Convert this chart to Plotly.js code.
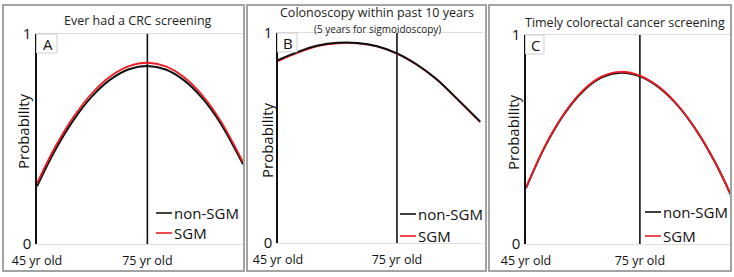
<!DOCTYPE html>
<html><head><meta charset="utf-8">
<script src="https://cdn.plot.ly/plotly-3.0.1.min.js"></script>
<style>html,body{margin:0;padding:0;background:#fff;}#chart{width:734px;height:277px;}</style>
</head><body><div id="chart"></div>
<script>
// ---- data ----
const agesA = [45, 50, 55, 60, 65, 70, 75, 80, 85, 90, 95, 101];
const nonSgmA = [0.275, 0.449, 0.592, 0.704, 0.784, 0.832, 0.848, 0.831, 0.779, 0.693, 0.572, 0.38];
const sgmA    = [0.289, 0.464, 0.607, 0.719, 0.799, 0.847, 0.863, 0.846, 0.794, 0.707, 0.584, 0.39];

const agesB = [45, 50, 55, 60, 65, 70, 75, 80, 85, 90, 96];
const nonSgmB = [0.871, 0.910, 0.940, 0.953, 0.952, 0.937, 0.903, 0.850, 0.780, 0.690, 0.578];
const sgmB    = [0.866, 0.906, 0.937, 0.951, 0.951, 0.936, 0.902, 0.849, 0.779, 0.689, 0.576];

const agesC = [45, 50, 55, 60, 65, 70, 75, 80, 85, 90, 95, 99];
const nonSgmC = [0.267, 0.466, 0.620, 0.731, 0.797, 0.819, 0.802, 0.749, 0.662, 0.540, 0.384, 0.233];
const sgmC    = [0.270, 0.468, 0.623, 0.735, 0.802, 0.824, 0.806, 0.752, 0.664, 0.541, 0.385, 0.235];

const panelTitles = ['Ever had a CRC screening', 'Colonoscopy within past 10 years', 'Timely colorectal cancer screening'];
const panelSubtitles = ['', '(5 years for sigmoidoscopy)', ''];
const panelLetters = ['A', 'B', 'C'];
const seriesNames = ['non-SGM', 'SGM'];
const tickAges = [45, 75];
const tickAgeLabels = ['45 yr old', '75 yr old'];
const probTicks = [0, 1];
const probTickLabels = ['0', '1'];
const yTitle = 'Probability';
const markerAge = 75;

// ---- layout helpers (pixel -> paper) ----
const W = 734, H = 277;
const px = x => x / W;
const py = y => 1 - y / H;
const FONT = 'Open Sans, sans-serif';
const BLACK = '#111111', RED = '#ee1c25';

const panels = [
  {ages: agesA, non: nonSgmA, sgm: sgmA, xr: [45, 101], dom: [37, 243], top: 34, bot: 244, border: [3, 244], redOnTop: true,
   titleX: 138, titleY: 21, ytX: 23, ytY: 131, legX: 156, legY: [213, 233], boxW: 20},
  {ages: agesB, non: nonSgmB, sgm: sgmB, xr: [45, 96.7], dom: [278, 483], top: 33, bot: 243, border: [247, 486], redOnTop: false,
   titleX: 377, titleY: 12.5, ytX: 267, ytY: 140, legX: 400, legY: [214, 236], boxW: 19},
  {ages: agesC, non: nonSgmC, sgm: sgmC, xr: [45, 99], dom: [526, 731], top: 35, bot: 244, border: [489, 731], redOnTop: true,
   titleX: 625, titleY: 22, ytX: 513, ytY: 132, legX: 645, legY: [212, 236], boxW: 18}
];

const traces = [];
const shapes = [];
const annotations = [];
const layout = {
  width: W, height: H, margin: {l: 0, r: 0, t: 0, b: 0},
  paper_bgcolor: '#ffffff', plot_bgcolor: 'rgba(0,0,0,0)', showlegend: false,
  font: {family: FONT, color: BLACK}
};

panels.forEach((p, i) => {
  const n = i + 1;
  const xa = 'x' + (n === 1 ? '' : n), ya = 'y' + (n === 1 ? '' : n);
  const xk = 'xaxis' + (n === 1 ? '' : n), yk = 'yaxis' + (n === 1 ? '' : n);
  const blackTrace = {x: p.ages, y: p.non, name: seriesNames[0], type: 'scatter', mode: 'lines',
    line: {color: BLACK, width: 2, shape: 'spline', smoothing: 1}, xaxis: xa, yaxis: ya, hoverinfo: 'skip'};
  const redTrace = {x: p.ages, y: p.sgm, name: seriesNames[1], type: 'scatter', mode: 'lines',
    line: {color: RED, width: 1.8, shape: 'spline', smoothing: 1}, xaxis: xa, yaxis: ya, hoverinfo: 'skip'};
  if (p.redOnTop) { traces.push(blackTrace, redTrace); } else { traces.push(redTrace, blackTrace); }

  layout[xk] = {domain: [px(p.dom[0]), px(p.dom[1])], range: p.xr, anchor: ya,
    showgrid: false, zeroline: false, showline: true, linecolor: '#dedede', linewidth: 1, mirror: true,
    tickvals: tickAges, ticktext: tickAgeLabels, ticks: '', ticklabelstandoff: 5,
    tickfont: {family: FONT, size: 12.5, color: BLACK}, fixedrange: true};
  layout[yk] = {domain: [py(p.bot), py(p.top)], range: [0, 1], anchor: xa,
    showgrid: false, zeroline: false, showline: true, linecolor: BLACK, linewidth: 1.6,
    tickvals: probTicks, ticktext: probTickLabels, ticks: '', ticklabelstandoff: 1,
    tickfont: {family: FONT, size: 15, color: BLACK}, fixedrange: true};

  // vertical marker at 75 yr
  shapes.push({type: 'line', xref: xa, yref: ya, x0: markerAge, x1: markerAge, y0: 0, y1: 1,
    line: {color: BLACK, width: 1.6}, layer: 'below'});
  // panel border
  shapes.push({type: 'rect', xref: 'paper', yref: 'paper', x0: px(p.border[0]), x1: px(p.border[1]),
    y0: py(271), y1: py(5), line: {color: '#a3a3a3', width: 2}});
  // panel letter box
  shapes.push({type: 'rect', xref: 'paper', yref: 'paper', x0: px(p.dom[0] - 0.5), x1: px(p.dom[0] + p.boxW),
    y0: py(p.top + 19), y1: py(p.top), line: {color: '#cfcfcf', width: 1}, fillcolor: '#ffffff', layer: 'above'});
  annotations.push({xref: 'paper', yref: 'paper', x: px(p.dom[0] + p.boxW / 2 + 0.5), y: py(p.top + 10),
    text: panelLetters[i], showarrow: false, font: {family: FONT, size: 15, color: BLACK}, xanchor: 'center', yanchor: 'middle'});
  // titles
  annotations.push({xref: 'paper', yref: 'paper', x: px(p.titleX), y: py(p.titleY), text: panelTitles[i], borderpad: 0,
    showarrow: false, font: {family: FONT, size: 12.5, color: '#222'}, xanchor: 'center', yanchor: 'middle'});
  if (panelSubtitles[i]) {
    annotations.push({xref: 'paper', yref: 'paper', x: px(p.titleX), y: py(28.5), text: panelSubtitles[i], borderpad: 0,
      showarrow: false, font: {family: FONT, size: 10, color: '#222'}, xanchor: 'center', yanchor: 'middle'});
  }
  // y title
  annotations.push({xref: 'paper', yref: 'paper', x: px(p.ytX), y: py(p.ytY), text: yTitle, textangle: -90,
    showarrow: false, font: {family: FONT, size: 15, color: BLACK}, xanchor: 'center', yanchor: 'middle'});
  // legend
  [BLACK, RED].forEach((c, k) => {
    shapes.push({type: 'line', xref: 'paper', yref: 'paper', x0: px(p.legX), x1: px(p.legX + 16),
      y0: py(p.legY[k]), y1: py(p.legY[k]), line: {color: c, width: 1.6}});
    annotations.push({xref: 'paper', yref: 'paper', x: px(p.legX + 16), y: py(p.legY[k]), text: seriesNames[k],
      showarrow: false, font: {family: FONT, size: 15, color: BLACK}, xanchor: 'left', yanchor: 'middle'});
  });
});

layout.shapes = shapes;
layout.annotations = annotations;
Plotly.newPlot('chart', traces, layout, {staticPlot: true, displayModeBar: false});
</script>
</body></html>
